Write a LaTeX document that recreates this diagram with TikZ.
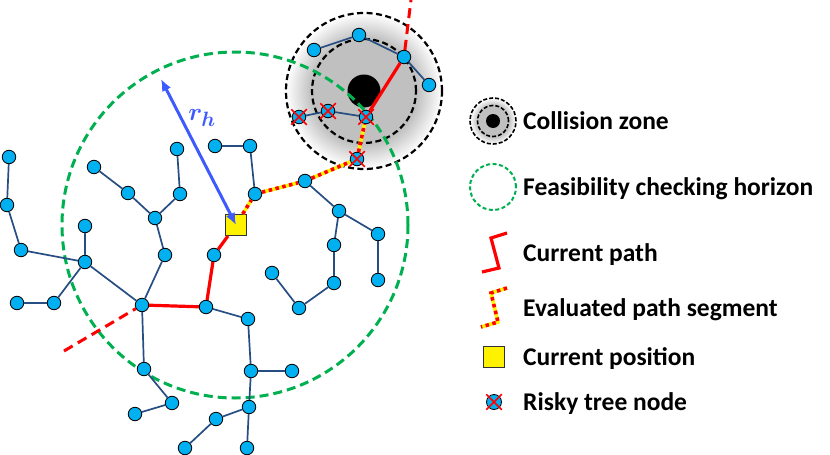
\documentclass[tikz,border=0pt]{standalone}
\usepackage{amsmath}
\usepackage{amssymb}
\usepackage{fontspec}
\setmainfont{Carlito}
\usetikzlibrary{arrows.meta}
\usetikzlibrary{shapes.misc}
\definecolor{nodeblue}{RGB}{0,176,240}
\definecolor{edgeblue}{RGB}{38,78,130}
\definecolor{horizongreen}{RGB}{0,176,80}
\definecolor{radiusblue}{RGB}{61,90,254}
\definecolor{zonegray}{RGB}{192,192,192}
\pgfdeclareradialshading{zonefade}{\pgfpointorigin}{color(0bp)=(zonegray); color(17bp)=(zonegray); color(25bp)=(white); color(50bp)=(white)}
\tikzset{
  >={Latex[length=12pt,width=10pt]},
  % Common styles for the tree
  treenode/.style={draw, circle, fill=nodeblue, minimum size=13.5pt, inner sep=0pt, line width=0.8pt},
  edge/.style={draw=edgeblue, line width=1.7pt},
  riskmark/.style={draw=red, cross out, minimum size=14pt, inner sep=0pt, line width=1.5pt}
}

\begin{document}
\begin{tikzpicture}[x=1pt, y=-1pt]
    % Define styles
    \tikzstyle{zone} = [circle, shading=zonefade, draw=black, dash pattern=on 6pt off 3.5pt, line width=2.2pt, inner sep=0pt]
    \tikzstyle{zonering} = [circle, draw=black, dash pattern=on 6pt off 3.5pt, line width=2.2pt, inner sep=0pt]
    \tikzstyle{obstacle} = [circle, fill=black, inner sep=0pt]
    \tikzstyle{horizon} = [circle, draw=horizongreen, dash pattern=on 9pt off 5pt, line width=3pt, inner sep=0pt]
    \tikzstyle{position} = [rectangle, draw=black!80, fill=yellow, minimum size=21pt, inner sep=0pt, line width=1pt]
    \tikzstyle{pathline} = [draw=red, line width=3.2pt]
    \tikzstyle{pathdash} = [draw=red, line width=3pt, dash pattern=on 10pt off 6pt]
    \tikzstyle{evalbase} = [draw=yellow, line width=3.6pt]
    \tikzstyle{evaldash} = [draw=red, line width=3.6pt, dash pattern=on 3.5pt off 3.5pt]
    \tikzstyle{legendtext} = [anchor=west, font=\fontsize{25.5}{28}\selectfont\bfseries, inner sep=0pt, text height=20pt, text depth=4pt]

    \useasboundingbox (0,0) rectangle (830,455);

    % Collision zone and horizon
    \node [zone, minimum size=156pt] (zone) at (364,91) {};
    \node [zonering, minimum size=104pt] (zonein) at (364,91) {};
    \node [obstacle, minimum size=33pt] (obst) at (364,91) {};
    \node [horizon, minimum size=346pt] (horizon) at (235,225) {};

    % Place nodes - left branches
    \node [treenode] (l1) at (9,157) {};
    \node [treenode] (l2) at (7,205) {};
    \node [treenode] (l3) at (21,250) {};
    \node [treenode] (l4) at (85,262) {};
    \node [treenode] (l5) at (85,226) {};
    \node [treenode] (l6) at (54,303) {};
    \node [treenode] (l7) at (17,303) {};
    \node [treenode] (root) at (142,305) {};
    \node [treenode] (m1) at (165,255) {};
    \node [treenode] (m2) at (155,218) {};
    \node [treenode] (m3) at (128,193) {};
    \node [treenode] (m4) at (94,167) {};
    \node [treenode] (m5) at (180,194) {};
    \node [treenode] (m6) at (177,149) {};

    % Place nodes - lower branches
    \node [treenode] (b1) at (144,369) {};
    \node [treenode] (b2) at (172,403) {};
    \node [treenode] (b3) at (135,414) {};
    \node [treenode] (c1) at (206,307) {};
    \node [treenode] (c2) at (248,319) {};
    \node [treenode] (c3) at (251,371) {};
    \node [treenode] (c4) at (292,371) {};
    \node [treenode] (c5) at (249,407) {};
    \node [treenode] (c6) at (216,419) {};
    \node [treenode] (c7) at (185,448) {};
    \node [treenode] (c8) at (247,448) {};

    % Place nodes - around the current position
    \node [treenode] (p1) at (214,255) {};
    \node [position] (pos) at (236,225) {};
    \node [treenode] (u1) at (255,194) {};
    \node [treenode] (u2) at (250,146) {};
    \node [treenode] (u3) at (215,146) {};
    \node [treenode] (r1) at (305,181) {};
    \node [treenode] (r2) at (339,211) {};
    \node [treenode] (r3) at (378,234) {};
    \node [treenode] (r4) at (378,280) {};
    \node [treenode] (r5) at (334,245) {};
    \node [treenode] (r6) at (334,283) {};
    \node [treenode] (r7) at (299,308) {};
    \node [treenode] (r8) at (272,273) {};

    % Place nodes - inside the collision zone
    \node [treenode] (z1) at (314,50) {};
    \node [treenode] (z2) at (359,35) {};
    \node [treenode] (z3) at (404,57) {};
    \node [treenode] (z4) at (429,85) {};
    \node [treenode] (k1) at (357,159) {};
    \node [treenode] (k2) at (366,117) {};
    \node [treenode] (k3) at (328,111) {};
    \node [treenode] (k4) at (299,117) {};

    % Free ends of the current path
    \coordinate (pathstart) at (64,351);
    \coordinate (pathend) at (411,0);

    % Draw edges of the tree
    \path [edge] (l1) -- (l2);
    \path [edge] (l2) -- (l3);
    \path [edge] (l3) -- (l4);
    \path [edge] (l5) -- (l4);
    \path [edge] (l4) -- (root);
    \path [edge] (l4) -- (l6);
    \path [edge] (l6) -- (l7);
    \path [edge] (root) -- (m1);
    \path [edge] (m1) -- (m2);
    \path [edge] (m2) -- (m3);
    \path [edge] (m3) -- (m4);
    \path [edge] (m2) -- (m5);
    \path [edge] (m5) -- (m6);
    \path [edge] (root) -- (b1);
    \path [edge] (b1) -- (b2);
    \path [edge] (b2) -- (b3);
    \path [edge] (c1) -- (c2);
    \path [edge] (c2) -- (c3);
    \path [edge] (c3) -- (c4);
    \path [edge] (c3) -- (c5);
    \path [edge] (c5) -- (c6);
    \path [edge] (c6) -- (c7);
    \path [edge] (c5) -- (c8);
    \path [edge] (u1) -- (u2);
    \path [edge] (u2) -- (u3);
    \path [edge] (r1) -- (r2);
    \path [edge] (r2) -- (r3);
    \path [edge] (r3) -- (r4);
    \path [edge] (r2) -- (r5);
    \path [edge] (r5) -- (r6);
    \path [edge] (r6) -- (r7);
    \path [edge] (r7) -- (r8);
    \path [edge] (z1) -- (z2);
    \path [edge] (z2) -- (z3);
    \path [edge] (z3) -- (z4);
    \path [edge] (k2) -- (k3);
    \path [edge] (k3) -- (k4);

    % Current path
    \path [pathdash] (pathstart) -- (root);
    \path [pathline] (root) -- (c1);
    \path [pathline] (c1) -- (p1);
    \path [pathline] (p1) -- (pos);
    \path [pathline] (k2) -- (z3);
    \path [pathdash] (z3) -- (pathend);

    % Evaluated segment
    \path [evalbase] (pos) -- (u1);
    \path [evaldash] (pos) -- (u1);
    \path [evalbase] (u1) -- (r1);
    \path [evaldash] (u1) -- (r1);
    \path [evalbase] (r1) -- (k1);
    \path [evaldash] (r1) -- (k1);
    \path [evalbase] (k1) -- (k2);
    \path [evaldash] (k1) -- (k2);

    % Risky marks
    \node [riskmark] (x1) at (k1) {};
    \node [riskmark] (x2) at (k2) {};
    \node [riskmark] (x3) at (k3) {};
    \node [riskmark] (x4) at (k4) {};

    % Horizon radius
    \coordinate (radtop) at (161,79);
    \path [draw=radiusblue, line width=3pt, <->] (radtop) -- (pos.center);
    \node [text=radiusblue, font=\fontsize{28}{30}\selectfont] (radlabel) at (202,118) {$\boldsymbol{r_h}$};

    % Legend
    \node [zone, minimum size=46pt, line width=1.6pt, dash pattern=on 4pt off 2pt] (lgzone) at (493,121) {};
    \node [zonering, minimum size=31pt, line width=1.6pt, dash pattern=on 4pt off 2pt] (lgring) at (493,121) {};
    \node [obstacle, minimum size=14pt] (lgobst) at (493,121) {};
    \node [horizon, minimum size=46pt, line width=2pt, dash pattern=on 4pt off 2.5pt] (lghorizon) at (493,187) {};
    \coordinate (cp1) at (507,233);
    \coordinate (cp2) at (491,238);
    \coordinate (cp3) at (499,268);
    \coordinate (cp4) at (482,272);
    \path [pathline] (cp1) -- (cp2) -- (cp3) -- (cp4);
    \coordinate (ev1) at (507,288);
    \coordinate (ev2) at (491,293);
    \coordinate (ev3) at (498,322);
    \coordinate (ev4) at (481,327);
    \path [evalbase] (ev1) -- (ev2) -- (ev3) -- (ev4);
    \path [evaldash] (ev1) -- (ev2) -- (ev3) -- (ev4);
    \node [position] (lgpos) at (494,357) {};
    \node [treenode, minimum size=15pt] (lgrisk) at (494,402) {};
    \node [riskmark, minimum size=14pt] (lgriskx) at (494,402) {};

    \node [legendtext] (t1) at (523,121) {Collision zone};
    \node [legendtext] (t2) at (523,187) {Feasibility checking horizon};
    \node [legendtext] (t3) at (523,253) {Current path};
    \node [legendtext] (t4) at (523,308) {Evaluated path segment};
    \node [legendtext] (t5) at (523,357) {Current position};
    \node [legendtext] (t6) at (523,402) {Risky tree node};
\end{tikzpicture}
\end{document}
